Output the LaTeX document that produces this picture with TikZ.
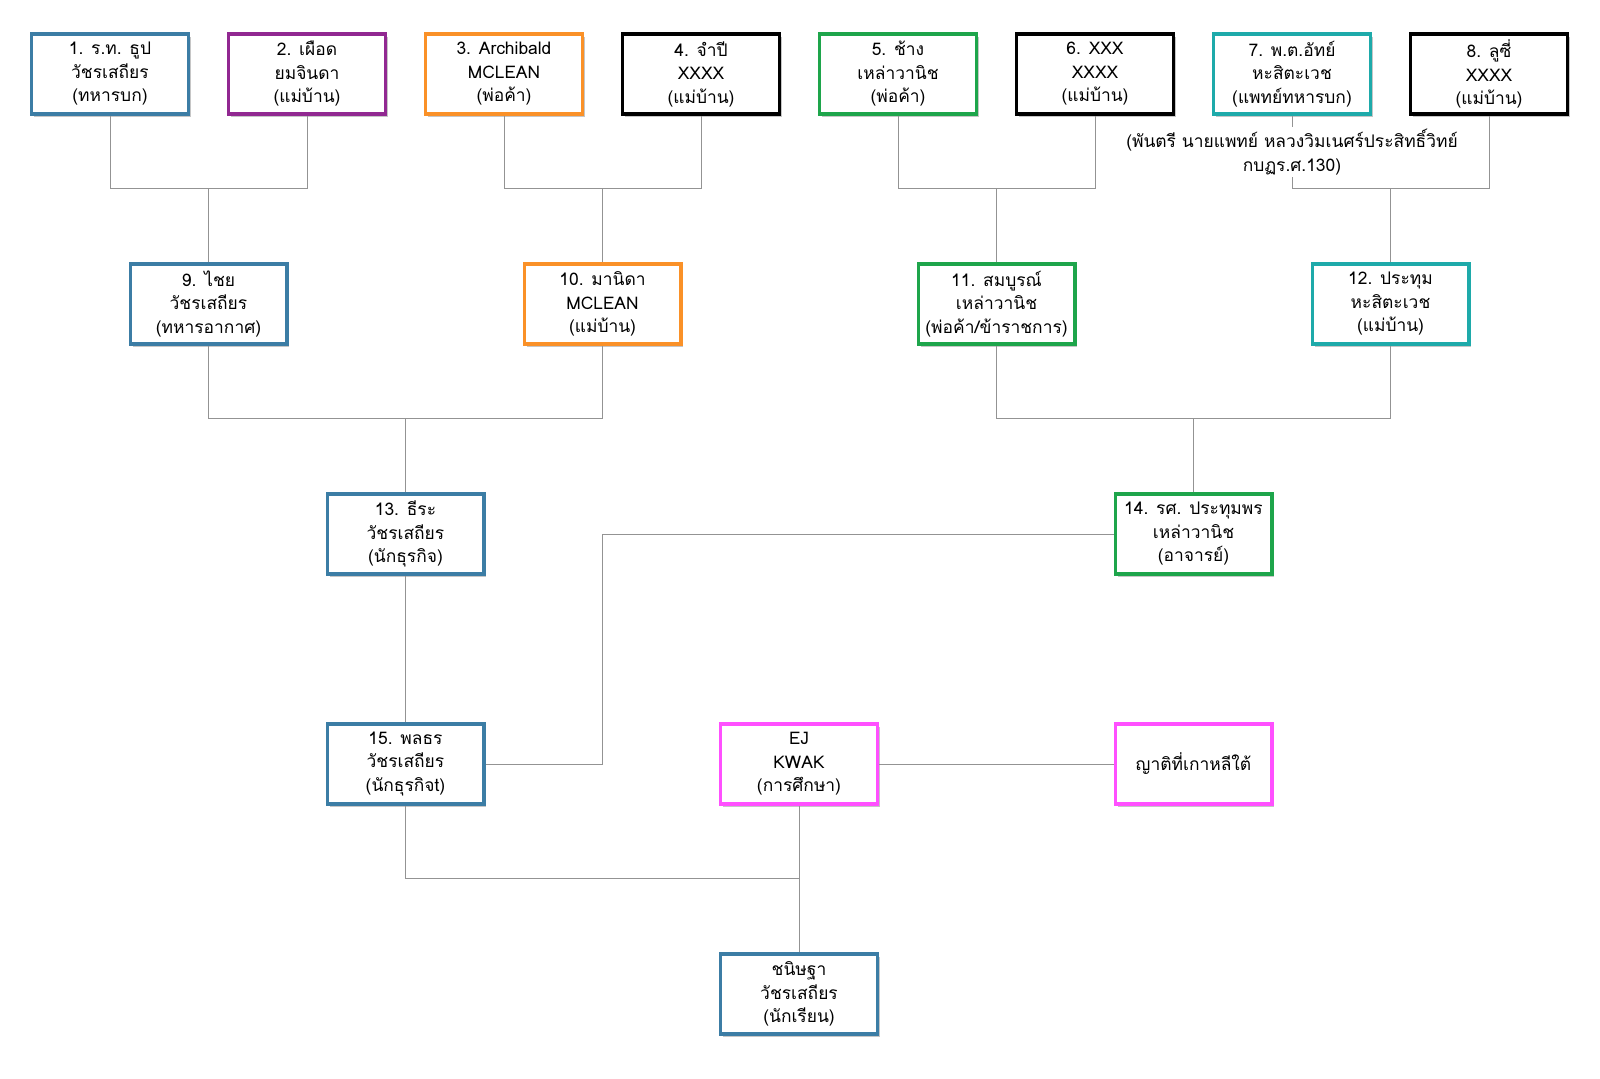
\documentclass[tikz,border=0pt]{standalone}
\usepackage{fontspec}
\usepackage{tikz}
\usetikzlibrary{positioning, calc, shadows}
\newfontfamily\thaifont[Script=Thai]{Loma}
\definecolor{colBlue}{RGB}{60,125,165}
\definecolor{colPurple}{RGB}{145,40,145}
\definecolor{colOrange}{RGB}{250,145,40}
\definecolor{colGreen}{RGB}{30,165,75}
\definecolor{colTeal}{RGB}{30,170,170}
\definecolor{colPink}{RGB}{255,80,255}

\begin{document}
\begin{tikzpicture}[
  x=0.5pt, y=-0.5pt,
  node distance=0 and 18.5pt,
  box/.style={rectangle, draw, line width=1.7pt, fill=white, minimum width=78.3pt,
              minimum height=40pt, inner sep=1pt, align=center,
              font=\thaifont\fontsize{8.7}{11.75}\selectfont,
              drop shadow={shadow xshift=1.2pt, shadow yshift=-1.5pt, opacity=0.45}},
  link/.style={draw=gray!85, line width=0.5pt},
]
\useasboundingbox (0,0) rectangle (1600,1078);

% first generation
\node[box, draw=colBlue] (p1) at (110,74) {1. ร.ท. ธูป\\วัชรเสถียร\\(ทหารบก)};
\node[box, draw=colPurple, right=of p1] (p2) {2. เผือด\\ยมจินดา\\(แม่บ้าน)};
\node[box, draw=colOrange, right=of p2] (p3) {3. Archibald\\MCLEAN\\(พ่อค้า)};
\node[box, draw=black, right=of p3] (p4) {4. จำปี\\XXXX\\(แม่บ้าน)};
\node[box, draw=colGreen, right=of p4] (p5) {5. ช้าง\\เหล่าวานิช\\(พ่อค้า)};
\node[box, draw=black, right=of p5] (p6) {6. XXX\\XXXX\\(แม่บ้าน)};
\node[box, draw=colTeal, right=of p6] (p7) {7. พ.ต.อัทย์\\หะสิตะเวช\\(แพทย์ทหารบก)};
\node[box, draw=black, right=of p7] (p8) {8. ลูซี่\\XXXX\\(แม่บ้าน)};

\coordinate (j12) at ($(p1.south)!0.5!(p2.south)+(0,73)$);
\coordinate (j34) at ($(p3.south)!0.5!(p4.south)+(0,73)$);
\coordinate (j56) at ($(p5.south)!0.5!(p6.south)+(0,73)$);
\coordinate (j78) at ($(p7.south)!0.5!(p8.south)+(0,73)$);

% second generation
\node[box, draw=colBlue] (p9) at (j12 |- 0,304) {9. ไชย\\วัชรเสถียร\\(ทหารอากาศ)};
\node[box, draw=colOrange] (p10) at (j34 |- 0,304) {10. มานิดา\\MCLEAN\\(แม่บ้าน)};
\node[box, draw=colGreen] (p11) at (j56 |- 0,304) {11. สมบูรณ์\\เหล่าวานิช\\(พ่อค้า/ข้าราชการ)};
\node[box, draw=colTeal] (p12) at (j78 |- 0,304) {12. ประทุม\\หะสิตะเวช\\(แม่บ้าน)};

\draw[link] (p1) |- (j12) -| (p2);
\draw[link] (p3) |- (j34) -| (p4);
\draw[link] (p5) |- (j56) -| (p6);
\draw[link] (p7) |- (j78) -| (p8);
\draw[link] (j12) -- (p9);
\draw[link] (j34) -- (p10);
\draw[link] (j56) -- (p11);
\draw[link] (j78) -- (p12);

\node[fill=white, inner sep=1pt, align=center, font=\thaifont\fontsize{8.7}{11.75}\selectfont]
  (note) at (p7 |- 0,152) {(พันตรี นายแพทย์ หลวงวิมเนศร์ประสิทธิ์วิทย์\\กบฏร.ศ.130)};

\coordinate (j910) at ($(p9.south)!0.5!(p10.south)+(0,73)$);
\coordinate (j1112) at ($(p11.south)!0.5!(p12.south)+(0,73)$);

% third generation
\node[box, draw=colBlue] (p13) at (j910 |- 0,534) {13. ธีระ\\วัชรเสถียร\\(นักธุรกิจ)};
\node[box, draw=colGreen] (p14) at (j1112 |- 0,534) {14. รศ. ประทุมพร\\เหล่าวานิช\\(อาจารย์)};
\node[box, draw=colBlue] (p15) at (p13 |- 0,764) {15. พลธร\\วัชรเสถียร\\(นักธุรกิจt)};
\node[box, draw=colPink] (ej) at (799,764) {EJ\\KWAK\\(การศึกษา)};
\node[box, draw=colPink] (kin) at (p14 |- ej) {ญาติที่เกาหลีใต้};

\draw[link] (p9) |- (j910) -| (p10);
\draw[link] (p11) |- (j1112) -| (p12);
\draw[link] (j910) -- (p13);
\draw[link] (j1112) -- (p14);
\draw[link] (p13) -- (p15);
\coordinate (bend) at (p10 |- p14);
\draw[link] (p14) -- (bend) |- (p15);
\draw[link] (ej) -- (kin);

% child
\node[box, draw=colBlue] (child) at (ej |- 0,994) {ชนิษฐา\\วัชรเสถียร\\(นักเรียน)};
\coordinate (jkid) at ($(ej.south)+(0,73)$);
\draw[link] (p15) |- (jkid);
\draw[link] (ej) -- (child);

\end{tikzpicture}
\end{document}
